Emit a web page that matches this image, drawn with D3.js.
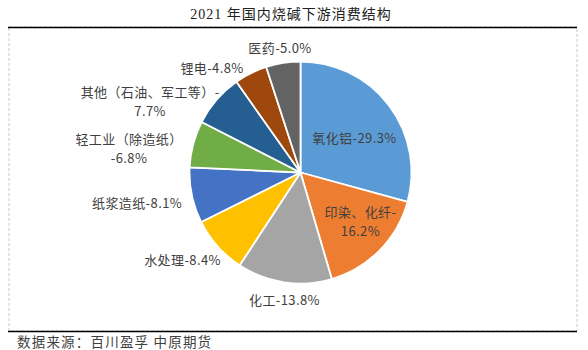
<!DOCTYPE html>
<html><head><meta charset="utf-8">
<script src="https://cdn.jsdelivr.net/npm/d3@7"></script>
<style>
html,body{margin:0;padding:0;background:#fff;}
svg{display:block;}
</style>
</head><body>
<script>
// ---- data ----
const title = "2021 年国内烧碱下游消费结构";
const source = "数据来源：百川盈孚 中原期货";
const categories = ["氧化铝","印染、化纤","化工","水处理","纸浆造纸","轻工业（除造纸）","其他（石油、军工等）","锂电","医药"];
const values = [29.3, 16.2, 13.8, 8.4, 8.1, 6.8, 7.7, 4.8, 5.0];
const colors = ["#5B9BD5","#ED7D31","#A5A5A5","#FFC000","#4472C4","#70AD47","#255E91","#9E480E","#636363"];
// label layout: absolute angle (deg, clockwise from north), radius factor, anchor, line break style
const labelLayout = [
  {a:57.0,  r:0.58, anchor:"middle", split:null},
  {a:129.0, r:0.695,anchor:"middle", split:"afterName"},
  {a:187.2, r:1.153,anchor:"middle", split:null},
  {a:222.6, r:1.059,anchor:"end",    split:null},
  {a:255.8, r:1.10, anchor:"end",    split:null},
  {a:278.1, r:1.56, anchor:"middle", split:"beforeDash"},
  {a:295.4, r:1.50, anchor:"middle", split:"afterName"},
  {a:320.0, r:1.24, anchor:"middle", split:null},
  {a:350.65,r:1.137,anchor:"middle", split:null}
];

const W = 588, H = 350;
const svg = d3.select("body").append("svg").attr("width", W).attr("height", H);

// frame
svg.append("rect").attr("x", 9).attr("y", 27).attr("width", 568).attr("height", 304)
  .attr("fill", "none").attr("stroke", "#c8c8c8").attr("stroke-width", 1).attr("stroke-dasharray", "3,2");
svg.append("line").attr("x1", 8).attr("x2", 577).attr("y1", 27.5).attr("y2", 27.5)
  .attr("stroke", "#000").attr("stroke-width", 1.6);
svg.append("line").attr("x1", 8).attr("x2", 577).attr("y1", 331.5).attr("y2", 331.5)
  .attr("stroke", "#000").attr("stroke-width", 1.6);

svg.append("text").attr("x", 291).attr("y", 14).attr("text-anchor", "middle")
  .attr("dominant-baseline", "central")
  .style("font-family", "'Liberation Serif','Noto Sans CJK SC',serif")
  .style("font-size", "14px").style("letter-spacing", "1px").attr("fill", "#222")
  .text(title);

svg.append("text").attr("x", 17).attr("y", 341).attr("dominant-baseline", "central")
  .style("font-family", "'Noto Sans CJK SC',sans-serif").style("font-size", "13.5px")
  .style("letter-spacing", "1.2px").attr("fill", "#404040")
  .text(source);

// pie
const cx = 300.5, cy = 172.5, R = 111;
const g = svg.append("g").attr("transform", `translate(${cx},${cy})`);
const pie = d3.pie().sort(null).value(d => d)(values);
const arc = d3.arc().innerRadius(0).outerRadius(R);
g.selectAll("path").data(pie).join("path")
  .attr("d", arc).attr("fill", (d, i) => colors[i])
  .attr("stroke", "#fff").attr("stroke-width", 1.8).attr("stroke-linejoin", "round");

// labels
const labG = g.append("g").style("font-family", "'Noto Sans CJK SC',sans-serif")
  .style("font-size", "13px").style("letter-spacing", "0.4px");
pie.forEach((d, i) => {
  const L = labelLayout[i];
  const ang = L.a * Math.PI / 180;
  const x = Math.sin(ang) * R * L.r, y = -Math.cos(ang) * R * L.r;
  const pct = d3.format(".1f")(values[i]) + "%";
  let lines;
  if (L.split === "afterName") lines = [categories[i] + "-", pct];
  else if (L.split === "beforeDash") lines = [categories[i], "-" + pct];
  else lines = [categories[i] + "-" + pct];
  const lh = 19;
  lines.forEach((ln, k) => {
    labG.append("text").attr("x", x).attr("y", y - (lines.length - 1) * lh / 2 + k * lh)
      .attr("text-anchor", L.anchor).attr("dominant-baseline", "central").attr("fill", "#404040")
      .text(ln);
  });
});
</script>
</body></html>
